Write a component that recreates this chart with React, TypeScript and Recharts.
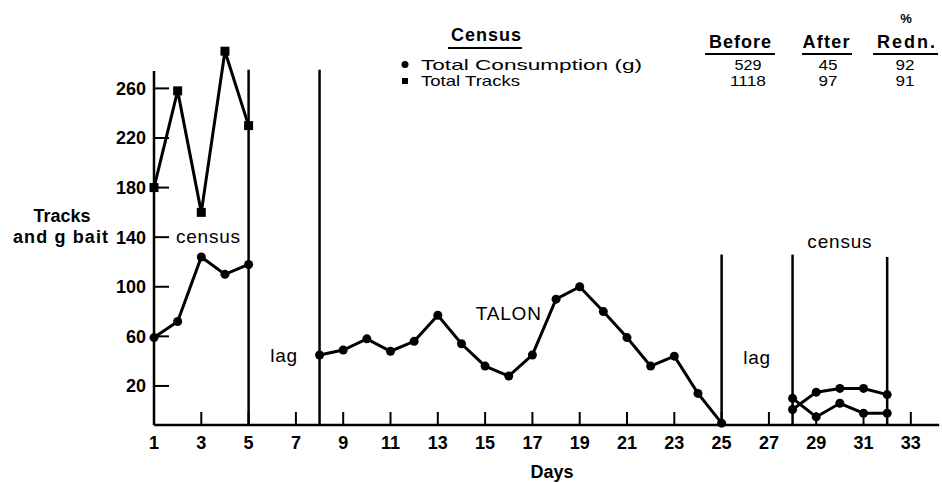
import React from 'react';
import { LineChart, Line, XAxis, YAxis, ReferenceLine, ReferenceDot } from 'recharts';

// ---------- data ----------
const censusBeforeDays = [1, 2, 3, 4, 5];
const consumptionBefore = [59, 72, 124, 110, 118];
const tracksBefore = [180, 258, 160, 290, 230];

const talonDays = [8, 9, 10, 11, 12, 13, 14, 15, 16, 17, 18, 19, 20, 21, 22, 23, 24, 25];
const talonConsumption = [45, 49, 58, 48, 56, 77, 54, 36, 28, 45, 90, 100, 80, 59, 36, 44, 14, -10];

const censusAfterDays = [28, 29, 30, 31, 32];
const consumptionAfter = [10, -5, 6, -2, -2];
const tracksAfter = [1, 15, 18, 18, 13];

const xTicks = [1, 3, 5, 7, 9, 11, 13, 15, 17, 19, 21, 23, 25, 27, 29, 31, 33];
const yTicks = [20, 60, 100, 140, 180, 220, 260];

const boundaryDays = [1, 5, 8, 25, 28, 32];
const boundaryTops = [274, 275, 275, 126, 126, 124];

const tableRows = ['Total Consumption (g)', 'Total Tracks'];
const tableBefore = [529, 1118];
const tableAfter = [45, 97];
const tableRedn = [92, 91];

const annotations = [
  { day: 3.3, value: 141, text: 'census' },
  { day: 6.5, value: 45, text: 'lag' },
  { day: 16, value: 79, text: 'TALON' },
  { day: 26.5, value: 43, text: 'lag' },
  { day: 30, value: 137, text: 'census' },
];

const Y_MIN = -11.5;
const Y_MAX = 300;

const FONT = '"Liberation Sans", Arial, Helvetica, sans-serif';

const toSeries = (days: number[], vals: number[]) => days.map((d, i) => ({ day: d, value: vals[i] }));

const consBeforeData = toSeries(censusBeforeDays, consumptionBefore);
const tracksBeforeData = toSeries(censusBeforeDays, tracksBefore);
const talonData = toSeries(talonDays, talonConsumption);
const consAfterData = toSeries(censusAfterDays, consumptionAfter);
const tracksAfterData = toSeries(censusAfterDays, tracksAfter);

const CircleDot = (props: any) => {
  const { cx, cy, index } = props;
  if (cx == null || cy == null) return <g key={index} />;
  return <circle key={index} cx={cx} cy={cy} r={4.5} fill="#000" stroke="none" />;
};

const SquareDot = (props: any) => {
  const { cx, cy, index } = props;
  if (cx == null || cy == null) return <g key={index} />;
  return <rect key={index} x={cx - 4.5} y={cy - 4.5} width={9} height={9} fill="#000" stroke="none" />;
};

const YTick = (props: any) => {
  const { x, y, payload } = props;
  return (
    <g>
      <text x={x} y={y} dy="0.36em" textAnchor="end" fontFamily={FONT} fontWeight="bold" fontSize={18} fill="#000">
        {payload.value}
      </text>
      <line x1={x + 8} y1={y} x2={x + 23} y2={y} stroke="#000" strokeWidth={2} />
    </g>
  );
};

const XTick = (props: any) => {
  const { x, y, payload } = props;
  return (
    <g>
      <text x={x} y={y} dy="0.71em" textAnchor="middle" fontFamily={FONT} fontWeight="bold" fontSize={18} fill="#000">
        {payload.value}
      </text>
      <line x1={x} y1={y - 11} x2={x} y2={y - 24} stroke="#000" strokeWidth={2} />
    </g>
  );
};

const ROW_Y = [69.5, 86];

export default function App() {
  return (
    <div style={{ position: 'absolute', left: 0, top: 0, width: 942, height: 483, background: '#fff' }}>
      <LineChart
        width={942}
        height={483}
        margin={{ top: 38.8, right: 2.8, bottom: 28, left: 94 }}
      >
        <XAxis
          type="number"
          dataKey="day"
          domain={[1, 34.2]}
          ticks={xTicks}
          interval={0}
          axisLine={{ stroke: '#000', strokeWidth: 2.5 }}
          tickLine={false}
          tickSize={0}
          tickMargin={11}
          height={30}
          tick={<XTick />}
        />
        <YAxis
          type="number"
          dataKey="value"
          domain={[Y_MIN, Y_MAX]}
          ticks={yTicks}
          interval={0}
          axisLine={false}
          tickLine={false}
          tickSize={0}
          tickMargin={8}
          width={60}
          tick={<YTick />}
        />
        {boundaryDays.map((d, i) => (
          <ReferenceLine
            key={'b' + i}
            segment={[{ x: d, y: Y_MIN }, { x: d, y: boundaryTops[i] }]}
            stroke="#000"
            strokeWidth={2.5}
            ifOverflow="visible"
          />
        ))}
        {annotations.map((a, i) => (
          <ReferenceDot
            key={'a' + i}
            x={a.day}
            y={a.value}
            r={0}
            fill="none"
            stroke="none"
            ifOverflow="visible"
            label={{ value: a.text, position: 'center', fontSize: 19, fontFamily: FONT, fill: '#000', letterSpacing: 0.8 }}
          />
        ))}
        <Line data={tracksBeforeData} dataKey="value" stroke="#000" strokeWidth={3} dot={<SquareDot />} isAnimationActive={false} />
        <Line data={consBeforeData} dataKey="value" stroke="#000" strokeWidth={3} dot={<CircleDot />} isAnimationActive={false} />
        <Line data={talonData} dataKey="value" stroke="#000" strokeWidth={3} dot={<CircleDot />} isAnimationActive={false} />
        <Line data={consAfterData} dataKey="value" stroke="#000" strokeWidth={3} dot={<CircleDot />} isAnimationActive={false} />
        <Line data={tracksAfterData} dataKey="value" stroke="#000" strokeWidth={3} dot={<CircleDot />} isAnimationActive={false} />
      </LineChart>
      <svg width={942} height={483} style={{ position: 'absolute', left: 0, top: 0, pointerEvents: 'none' }}>
        <g fontFamily={FONT} fill="#000">
          <text x={62} y={221.5} textAnchor="middle" fontWeight="bold" fontSize={18}>Tracks</text>
          <text x={60.5} y={243} textAnchor="middle" fontWeight="bold" fontSize={18} textLength={95}>and g bait</text>

          <text x={486} y={41} textAnchor="middle" fontWeight="bold" fontSize={18} textLength={70}>Census</text>
          <line x1={448} y1={48} x2={522} y2={48} stroke="#000" strokeWidth={2} />

          <text x={906} y={23} textAnchor="middle" fontWeight="bold" fontSize={13}>%</text>
          <text x={740} y={48} textAnchor="middle" fontWeight="bold" fontSize={18} textLength={62}>Before</text>
          <text x={826} y={48} textAnchor="middle" fontWeight="bold" fontSize={18} textLength={47}>After</text>
          <text x={906} y={48} textAnchor="middle" fontWeight="bold" fontSize={18} textLength={58}>Redn.</text>
          <line x1={705} y1={54} x2={775} y2={54} stroke="#000" strokeWidth={2} />
          <line x1={802} y1={54} x2={852} y2={54} stroke="#000" strokeWidth={2} />
          <line x1={873} y1={54} x2={938} y2={54} stroke="#000" strokeWidth={2} />

          <circle cx={405} cy={64.5} r={3.5} fill="#000" />
          <rect x={402} y={78} width={6} height={6} fill="#000" />
          {tableRows.map((r, i) => (
            <g key={r}>
              <text x={421} y={ROW_Y[i]} fontSize={14.5} textLength={i === 0 ? 221 : 99} lengthAdjust="spacingAndGlyphs">{r}</text>
              <text x={748} y={ROW_Y[i]} textAnchor="middle" fontSize={14.5} textLength={i === 0 ? 27 : 36} lengthAdjust="spacingAndGlyphs">{tableBefore[i]}</text>
              <text x={828} y={ROW_Y[i]} textAnchor="middle" fontSize={14.5} textLength={19} lengthAdjust="spacingAndGlyphs">{tableAfter[i]}</text>
              <text x={905} y={ROW_Y[i]} textAnchor="middle" fontSize={14.5} textLength={19} lengthAdjust="spacingAndGlyphs">{tableRedn[i]}</text>
            </g>
          ))}

          <text x={552} y={478} textAnchor="middle" fontWeight="bold" fontSize={18}>Days</text>
        </g>
      </svg>
    </div>
  );
}
